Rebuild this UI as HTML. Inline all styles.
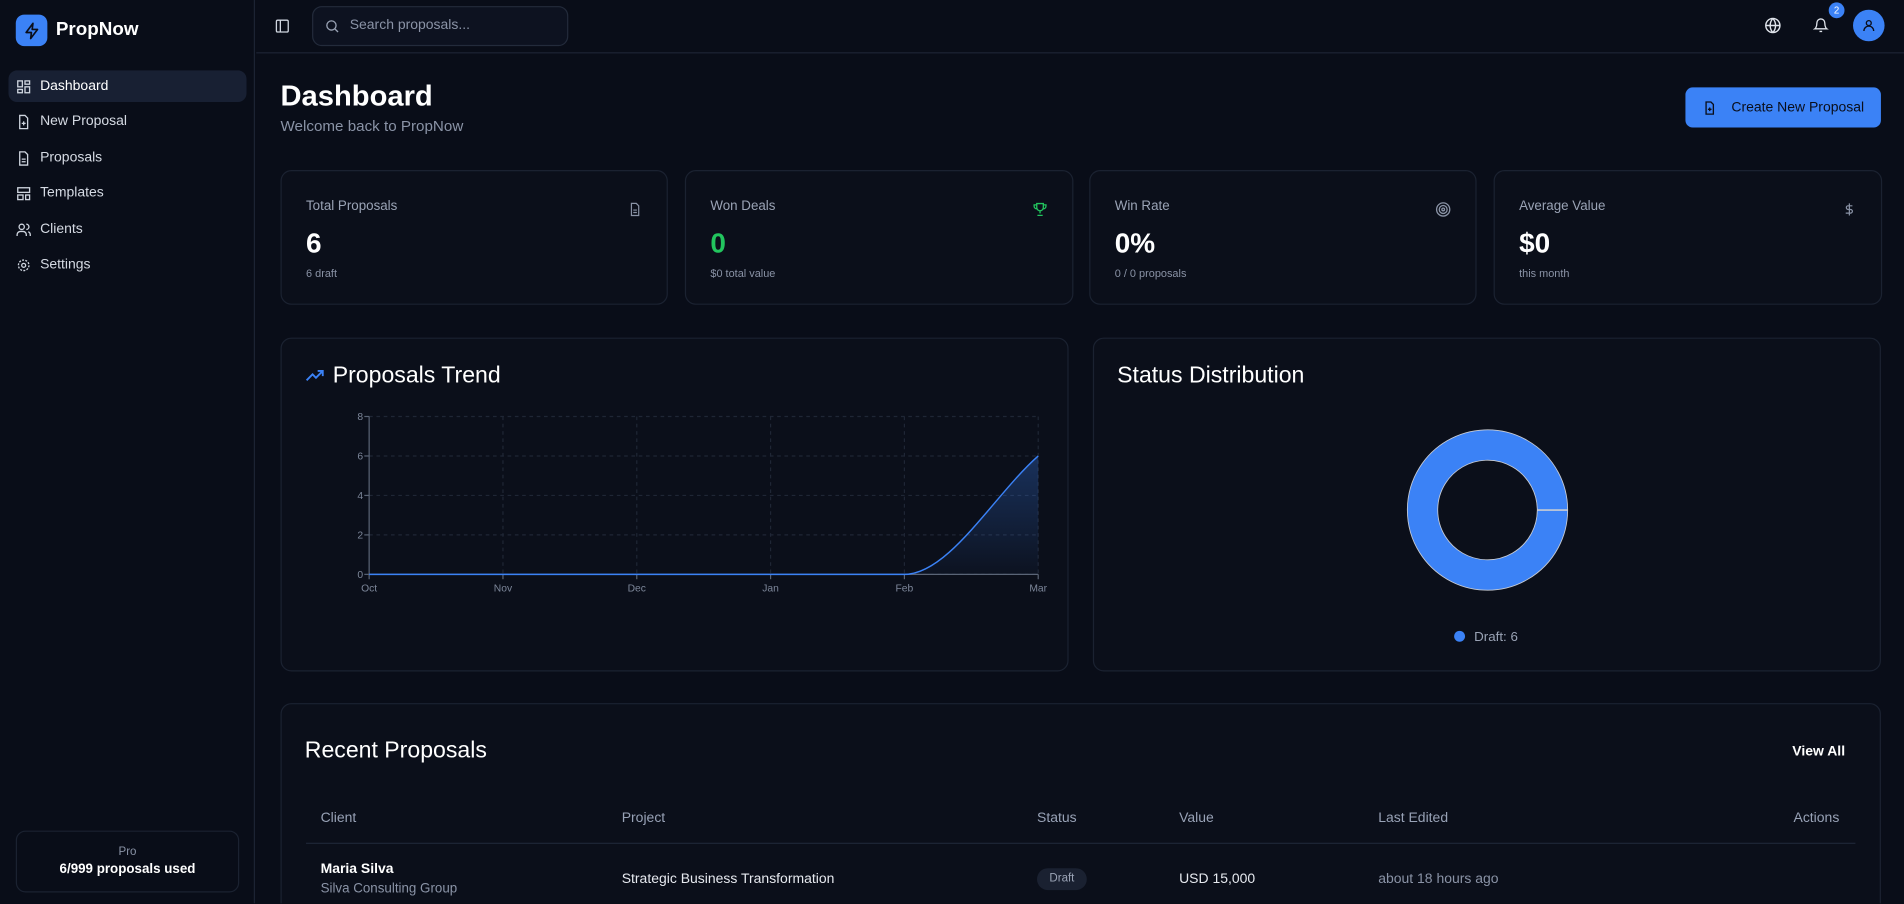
<!DOCTYPE html>
<html><head><meta charset="utf-8"><style>
*{box-sizing:border-box;margin:0;padding:0}
html,body{width:1904px;height:904px;overflow:hidden;background:#090d18;font-family:"Liberation Sans",sans-serif;color:#e6e9ef}
#wrap{position:absolute;left:0;top:0;width:1568px;height:744px;transform:scale(1.21429);transform-origin:0 0;overflow:hidden}
.abs{position:absolute}
.side{left:0;top:0;width:210px;height:744px;border-right:1px solid #1c2333;background:#090d18}
.nav{position:absolute;left:7px;width:196px;height:26px;border-radius:7px;font-size:11.5px;color:#d5dae3;display:flex;align-items:center;padding-left:6px}
.nav svg{margin-right:7px}
.nav.active{background:#182033;color:#fff}
.card{position:absolute;top:140px;height:111px;border:1px solid #1b2231;border-radius:9px;background:#0b0f1a}
.card .l{position:absolute;left:20px;top:23px;font-size:11px;color:#9aa3b5}
.card .v{position:absolute;left:20px;top:46px;font-size:23px;font-weight:bold;color:#fff}
.card .s{position:absolute;left:20px;top:79px;font-size:9px;color:#8a93a6}
.card svg{position:absolute;right:20px;top:25px}
.panel{position:absolute;border:1px solid #1b2231;border-radius:9px;background:#0b0f1a}
.th{position:absolute;top:668px;font-size:11.5px;color:#98a2b6}
</style></head><body>
<div id="wrap">
<div class="abs side">
  <div class="abs" style="left:13px;top:12px;width:26px;height:26px;border-radius:7px;background:#3b82f6;display:flex;align-items:center;justify-content:center">
    <svg width="15" height="15" viewBox="0 0 24 24" fill="none" stroke="#0a0e1a" stroke-width="2.2" stroke-linejoin="round"><path d="M13 2 4 14h7l-1 8 9-12h-7z"/></svg></div>
  <div class="abs" style="left:46px;top:16px;font-size:15.5px;font-weight:bold;color:#fff">PropNow</div>
  <div class="nav active" style="top:58px"><svg width="13" height="13" viewBox="0 0 24 24" fill="none" stroke="#cfd5df" stroke-width="2"><rect x="3" y="3" width="7" height="9"/><rect x="14" y="3" width="7" height="5"/><rect x="14" y="12" width="7" height="9"/><rect x="3" y="16" width="7" height="5"/></svg>Dashboard</div>
  <div class="nav" style="top:87px"><svg width="13" height="13" viewBox="0 0 24 24" fill="none" stroke="#cfd5df" stroke-width="2"><path d="M14 2H6v20h12V6z"/><path d="M12 11v6M9 14h6"/></svg>New Proposal</div>
  <div class="nav" style="top:117px"><svg width="13" height="13" viewBox="0 0 24 24" fill="none" stroke="#cfd5df" stroke-width="2"><path d="M14 2H6v20h12V6z"/><path d="M9 13h6M9 17h6"/></svg>Proposals</div>
  <div class="nav" style="top:146px"><svg width="13" height="13" viewBox="0 0 24 24" fill="none" stroke="#cfd5df" stroke-width="2"><rect x="3" y="3" width="18" height="7"/><rect x="3" y="14" width="8" height="7"/><rect x="15" y="14" width="6" height="7"/></svg>Templates</div>
  <div class="nav" style="top:176px"><svg width="13" height="13" viewBox="0 0 24 24" fill="none" stroke="#cfd5df" stroke-width="2"><circle cx="9" cy="7" r="4"/><path d="M2 21v-2a5 5 0 0 1 5-5h4a5 5 0 0 1 5 5v2M16 3a4 4 0 0 1 0 8M22 21v-2a5 5 0 0 0-3-4.5"/></svg>Clients</div>
  <div class="nav" style="top:205px"><svg width="13" height="13" viewBox="0 0 24 24" fill="none" stroke="#cfd5df" stroke-width="2"><circle cx="12" cy="12" r="3"/><circle cx="12" cy="12" r="8" stroke-dasharray="3 2"/></svg>Settings</div>
  <div class="abs" style="left:13px;top:684px;width:184px;height:51px;border:1px solid #1b2231;border-radius:8px;text-align:center">
    <div style="font-size:9.5px;color:#8a93a6;margin-top:11px">Pro</div>
    <div style="font-size:11px;font-weight:bold;color:#fff;margin-top:3px">6/999 proposals used</div></div>
</div>
<div class="abs" style="left:211px;top:0;width:1357px;height:44px;border-bottom:1px solid #1c2333"></div>
<svg class="abs" style="left:226px;top:15px" width="13" height="13" viewBox="0 0 24 24" fill="none" stroke="#cfd5df" stroke-width="2"><rect x="3" y="3" width="18" height="18" rx="2"/><path d="M9 3v18"/></svg>
<div class="abs" style="left:257px;top:5px;width:211px;height:33px;border:1px solid #232b3b;border-radius:8px;background:#0d1220;font-size:11.5px;color:#8a93a6;padding:9px 0 0 30px">Search proposals...
  <svg style="position:absolute;left:9px;top:9px" width="13" height="13" viewBox="0 0 24 24" fill="none" stroke="#9aa3b5" stroke-width="2"><circle cx="11" cy="11" r="7"/><path d="m21 21-5-5"/></svg></div>
<svg class="abs" style="left:1453px;top:14px" width="14" height="14" viewBox="0 0 24 24" fill="none" stroke="#dfe3ea" stroke-width="2"><circle cx="12" cy="12" r="10"/><path d="M2 12h20M12 2a15 15 0 0 1 0 20M12 2a15 15 0 0 0 0 20"/></svg>
<svg class="abs" style="left:1493px;top:14px" width="13" height="14" viewBox="0 0 24 24" fill="none" stroke="#dfe3ea" stroke-width="2"><path d="M6 8a6 6 0 0 1 12 0c0 7 3 9 3 9H3s3-2 3-9M10 21h4"/></svg>
<div class="abs" style="left:1506px;top:2px;width:13px;height:13px;border-radius:50%;background:#3b82f6;font-size:8px;text-align:center;line-height:13px;color:#fff">2</div>
<div class="abs" style="left:1526px;top:8px;width:26px;height:26px;border-radius:50%;background:#3b82f6;display:flex;align-items:center;justify-content:center"><svg width="12" height="12" viewBox="0 0 24 24" fill="none" stroke="#0a0e1a" stroke-width="2.2"><circle cx="12" cy="8" r="4"/><path d="M4 21a8 8 0 0 1 16 0"/></svg></div>

<div class="abs" style="left:231px;top:66px;font-size:24px;font-weight:bold;color:#fff">Dashboard</div>
<div class="abs" style="left:231px;top:97px;font-size:12.5px;color:#8a93a6">Welcome back to PropNow</div>
<div class="abs" style="left:1388px;top:72px;width:161px;height:33px;border-radius:6px;background:#3b82f6;color:#0a0e1a;font-size:11.5px;display:flex;align-items:center;justify-content:center;gap:12px"><svg width="12" height="12" viewBox="0 0 24 24" fill="none" stroke="#0a0e1a" stroke-width="2.2"><path d="M14 2H6v20h12V6z"/><path d="M12 11v6M9 14h6"/></svg>Create New Proposal</div>

<div class="card" style="left:231px;width:319px"><div class="l">Total Proposals</div><div class="v">6</div><div class="s">6 draft</div><svg width="12" height="13" viewBox="0 0 24 24" fill="none" stroke="#8a93a6" stroke-width="2"><path d="M14 2H6v20h12V6z"/><path d="M9 13h6M9 17h6"/></svg></div>
<div class="card" style="left:564px;width:320px"><div class="l">Won Deals</div><div class="v" style="color:#22c55e">0</div><div class="s">$0 total value</div><svg width="13" height="13" viewBox="0 0 24 24" fill="none" stroke="#22c55e" stroke-width="2"><path d="M7 3h10v6a5 5 0 0 1-10 0zM7 5H3v2a4 4 0 0 0 4 4M17 5h4v2a4 4 0 0 1-4 4M12 14v4M8 21h8"/></svg></div>
<div class="card" style="left:897px;width:319px"><div class="l">Win Rate</div><div class="v">0%</div><div class="s">0 / 0 proposals</div><svg width="13" height="13" viewBox="0 0 24 24" fill="none" stroke="#8a93a6" stroke-width="2"><circle cx="12" cy="12" r="10"/><circle cx="12" cy="12" r="6"/><circle cx="12" cy="12" r="2"/></svg></div>
<div class="card" style="left:1230px;width:320px"><div class="l">Average Value</div><div class="v">$0</div><div class="s">this month</div><svg width="12" height="13" viewBox="0 0 24 24" fill="none" stroke="#8a93a6" stroke-width="2"><path d="M12 2v20M17 6H10a3 3 0 0 0 0 6h4a3 3 0 0 1 0 6H6"/></svg></div>

<div class="panel" style="left:231px;top:278px;width:649px;height:275px"></div>
<svg class="abs" style="left:251px;top:302px" width="17" height="14" viewBox="0 0 24 20" fill="none" stroke="#3b82f6" stroke-width="2.2"><path d="M2 16l7-7 4 4 8-8M15 5h6v6"/></svg>
<div class="abs" style="left:274px;top:299px;font-size:19px;color:#fff">Proposals Trend</div>
<svg class="abs" id="trend" style="left:0;top:0" width="900" height="560"></svg>

<div class="panel" style="left:900px;top:278px;width:649px;height:275px"></div>
<div class="abs" style="left:920px;top:299px;font-size:19px;color:#fff">Status Distribution</div>
<svg class="abs" id="donut" style="left:1100px;top:340px" width="250" height="200"></svg>

<div class="panel" style="left:231px;top:579px;width:1318px;height:200px"></div>
<div class="abs" style="left:251px;top:608px;font-size:19px;color:#fff">Recent Proposals</div>
<div class="abs" style="left:1476px;top:613px;font-size:11.5px;font-weight:bold;color:#fff">View All</div>
<div class="th" style="left:264px">Client</div>
<div class="th" style="left:512px">Project</div>
<div class="th" style="left:854px">Status</div>
<div class="th" style="left:971px">Value</div>
<div class="th" style="left:1135px">Last Edited</div>
<div class="th" style="left:1477px">Actions</div>
<div class="abs" style="left:252px;top:694px;width:1276px;height:1px;background:#1e2536"></div>
<div class="abs" style="left:264px;top:710px;font-size:11.5px;font-weight:bold;color:#fff">Maria Silva</div>
<div class="abs" style="left:264px;top:726px;font-size:11px;color:#8a93a6">Silva Consulting Group</div>
<div class="abs" style="left:512px;top:718px;font-size:11.5px;color:#e6e9ef">Strategic Business Transformation</div>
<div class="abs" style="left:854px;top:715px;width:41px;height:18px;border-radius:9px;background:#1a2131;font-size:9.5px;color:#9aa3b5;text-align:center;line-height:18px">Draft</div>
<div class="abs" style="left:971px;top:718px;font-size:11.5px;color:#e6e9ef">USD 15,000</div>
<div class="abs" style="left:1135px;top:718px;font-size:11.5px;color:#8a93a6">about 18 hours ago</div>
</div>
<script>
const months = ["Oct","Nov","Dec","Jan","Feb","Mar"];
const counts = [0,0,0,0,0,6];
const yTicks = [0,2,4,6,8];
const statusLabels = ["Draft"];
const statusValues = [6];

const NS="http://www.w3.org/2000/svg";
function mk(p,t,a){const e=document.createElementNS(NS,t);for(const k in a)e.setAttribute(k,a[k]);p.appendChild(e);return e;}
(function(){
 const s=document.getElementById('trend');
 const x0=304,x1=855,y0=473,y1=343,ymax=8;
 const X=i=>x0+(x1-x0)*i/(months.length-1);
 const Y=v=>y0-(y0-y1)*v/ymax;
 const defs=mk(s,'defs',{});const g=mk(defs,'linearGradient',{id:'fg',x1:0,y1:0,x2:0,y2:1});
 mk(g,'stop',{offset:'0','stop-color':'#3b82f6','stop-opacity':'0.3'});mk(g,'stop',{offset:'1','stop-color':'#3b82f6','stop-opacity':'0.03'});
 yTicks.forEach(v=>{const l=mk(s,'line',{x1:x0,x2:x1,y1:Y(v),y2:Y(v),stroke:'#1f2635','stroke-dasharray':'3 3'});
  
  const t=mk(s,'text',{x:x0-5,y:Y(v)+3,'text-anchor':'end','font-size':8.5,fill:'#7d879a','font-family':'Liberation Sans'});t.textContent=v;
  
  mk(s,'line',{x1:x0-4,x2:x0,y1:Y(v),y2:Y(v),stroke:'#5a6475'});});
 months.forEach((m,i)=>{if(i>0)mk(s,'line',{x1:X(i),x2:X(i),y1:y1,y2:y0,stroke:'#1f2635','stroke-dasharray':'3 3'});
  mk(s,'line',{x1:X(i),x2:X(i),y1:y0,y2:y0+4,stroke:'#5a6475'});
  const t=mk(s,'text',{x:X(i),y:y0+14,'text-anchor':'middle','font-size':8.5,fill:'#7d879a','font-family':'Liberation Sans'});t.textContent=m;
  });
 mk(s,'line',{x1:x0,x2:x0,y1:y1,y2:y0,stroke:'#5a6475'});mk(s,'line',{x1:x0,x2:x1,y1:y0,y2:y0,stroke:'#5a6475'});
 const pts=counts.map((v,i)=>[X(i),Y(v)]);
 const n=pts.length;const sl=[];const d=[];
 for(let i=0;i<n-1;i++)d.push((pts[i+1][1]-pts[i][1])/(pts[i+1][0]-pts[i][0]));
 for(let i=0;i<n;i++){if(i==0)sl.push(d[0]);else if(i==n-1)sl.push(d[n-2]);else sl.push(d[i-1]*d[i]<=0?0:(d[i-1]+d[i])/2);}
 let p='M'+pts[0][0]+','+pts[0][1];
 for(let i=0;i<n-1;i++){const h=(pts[i+1][0]-pts[i][0])/3;p+=` C${pts[i][0]+h},${pts[i][1]+sl[i]*h} ${pts[i+1][0]-h},${pts[i+1][1]-sl[i+1]*h} ${pts[i+1][0]},${pts[i+1][1]}`;}
 const a=mk(s,'path',{d:p+` L${x1},${y0} L${x0},${y0}Z`,fill:'url(#fg)'});
 
 const l=mk(s,'path',{d:p,fill:'none',stroke:'#3b82f6','stroke-width':1.2});
 
})();
(function(){
 const s=document.getElementById('donut');
 const cx=125,cy=80,R=66,r=41,tot=statusValues.reduce((a,b)=>a+b,0);
 const colors=['#3b82f6','#22c55e','#f59e0b'];
 let ang=0;const pad=0.012;
 statusValues.forEach((v,i)=>{
  const sw=v/tot*2*Math.PI-pad;const a0=ang+pad/2,a1=a0+sw;
  const P=(rad,a)=>[cx+rad*Math.cos(a),cy-rad*Math.sin(a)];
  const lg=sw>Math.PI?1:0;const [ax,ay]=P(R,a0),[bx,by]=P(R,a1),[cx2,cy2]=P(r,a1),[dx,dy]=P(r,a0);
  const e=mk(s,'path',{d:`M${ax},${ay} A${R},${R} 0 ${lg} 0 ${bx},${by} L${cx2},${cy2} A${r},${r} 0 ${lg} 1 ${dx},${dy}Z`,fill:colors[i],stroke:'#c8ccd4','stroke-width':0.7});
  
  ang+=v/tot*2*Math.PI;
  const dot=mk(s,'circle',{cx:102,cy:184,r:4.5,fill:colors[i]});
  
  const t=mk(s,'text',{x:114,y:188,'font-size':11,fill:'#9aa3b5','font-family':'Liberation Sans'});t.textContent=statusLabels[i]+': '+v;
  
 });
})();
</script>
</body></html>
